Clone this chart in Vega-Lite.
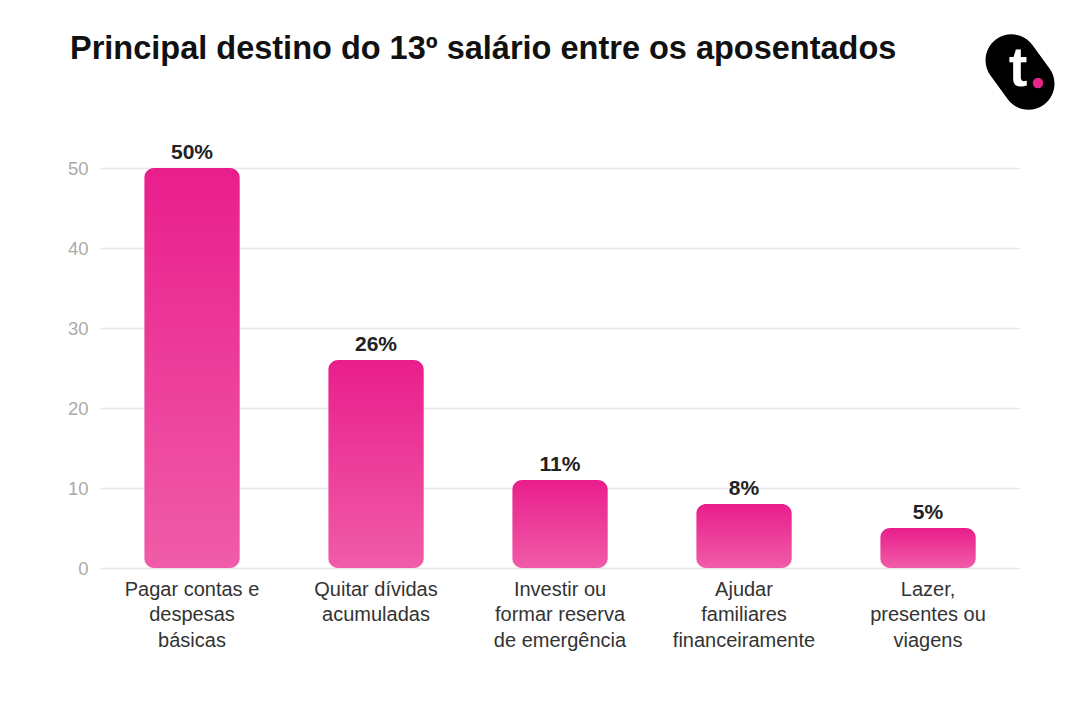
{
  "$schema": "https://vega.github.io/schema/vega-lite/v6.json",
  "width": 920,
  "height": 496,
  "autosize": {"type": "none"},
  "padding": {"left": 100, "top": 72, "right": 60, "bottom": 146},
  "background": "white",
  "config": {"view": {"stroke": null}, "font": "Liberation Sans"},
  "title": {
    "text": "Principal destino do 13º salário entre os aposentados",
    "anchor": "start",
    "frame": "group",
    "dx": -30,
    "fontSize": 32.5,
    "fontWeight": "bold",
    "color": "#111111",
    "baseline": "alphabetic",
    "offset": -57
  },
  "data": {
    "values": [
      {"destino": "Pagar contas e despesas básicas", "valor": 50, "rotulo": "50%"},
      {"destino": "Quitar dívidas acumuladas", "valor": 26, "rotulo": "26%"},
      {"destino": "Investir ou formar reserva de emergência", "valor": 11, "rotulo": "11%"},
      {"destino": "Ajudar familiares financeiramente", "valor": 8, "rotulo": "8%"},
      {"destino": "Lazer, presentes ou viagens", "valor": 5, "rotulo": "5%"}
    ]
  },
  "layer": [
    {
      "mark": {
        "type": "bar",
        "cornerRadius": 10,
        "color": {
          "gradient": "linear",
          "x1": 0, "y1": 0, "x2": 0, "y2": 1,
          "stops": [
            {"offset": 0, "color": "#E91E8C"},
            {"offset": 1, "color": "#F05CA8"}
          ]
        }
      },
      "encoding": {
        "x": {
          "field": "destino",
          "type": "nominal",
          "sort": null,
          "scale": {"paddingInner": 0.48, "paddingOuter": 0.24},
          "axis": {
            "title": null,
            "labelAngle": 0,
            "ticks": false,
            "domain": false,
            "labelFontSize": 20,
            "labelColor": "#333333",
            "labelPadding": 11,
            "labelLineHeight": 25.5,
            "labelBaseline": "top",
            "labelLimit": 300,
            "labelExpr": "datum.label == 'Pagar contas e despesas básicas' ? ['Pagar contas e', 'despesas', 'básicas'] : datum.label == 'Quitar dívidas acumuladas' ? ['Quitar dívidas', 'acumuladas'] : datum.label == 'Investir ou formar reserva de emergência' ? ['Investir ou', 'formar reserva', 'de emergência'] : datum.label == 'Ajudar familiares financeiramente' ? ['Ajudar', 'familiares', 'financeiramente'] : ['Lazer,', 'presentes ou', 'viagens']"
          }
        },
        "y": {
          "field": "valor",
          "type": "quantitative",
          "scale": {"domain": [0, 62], "nice": false},
          "axis": {
            "title": null,
            "values": [0, 10, 20, 30, 40, 50],
            "ticks": false,
            "domain": false,
            "labelFontSize": 18.5,
            "labelColor": "#AAAAAA",
            "labelPadding": 12,
            "gridColor": "#E8E8E8",
            "gridWidth": 1.5
          }
        }
      }
    },
    {
      "mark": {
        "type": "text",
        "baseline": "alphabetic",
        "dy": -9,
        "fontSize": 21,
        "fontWeight": "bold",
        "color": "#222222"
      },
      "encoding": {
        "x": {"field": "destino", "type": "nominal", "sort": null},
        "y": {"field": "valor", "type": "quantitative"},
        "text": {"field": "rotulo"}
      }
    },
    {
      "data": {"values": [{"logo": "t"}]},
      "mark": {
        "type": "point",
        "shape": "M -0.64 -0.36 A 0.64 0.64 0 0 1 0.64 -0.36 L 0.64 0.36 A 0.64 0.64 0 0 1 -0.64 0.36 Z",
        "size": 6561,
        "angle": -36,
        "filled": true,
        "color": "#000000",
        "opacity": 1,
        "strokeWidth": 0
      },
      "encoding": {"x": {"value": "width"}, "y": {"datum": 62}}
    },
    {
      "data": {"values": [{"logo": "t"}]},
      "mark": {
        "type": "text",
        "text": "t",
        "fontSize": 56,
        "fontWeight": "bold",
        "color": "#FFFFFF",
        "align": "center",
        "baseline": "middle",
        "dx": -2,
        "dy": -3
      },
      "encoding": {"x": {"value": "width"}, "y": {"datum": 62}}
    },
    {
      "data": {"values": [{"logo": "t"}]},
      "mark": {
        "type": "point",
        "shape": "circle",
        "size": 110,
        "filled": true,
        "color": "#E5258C",
        "opacity": 1,
        "xOffset": 18,
        "yOffset": 11
      },
      "encoding": {"x": {"value": "width"}, "y": {"datum": 62}}
    }
  ]
}
